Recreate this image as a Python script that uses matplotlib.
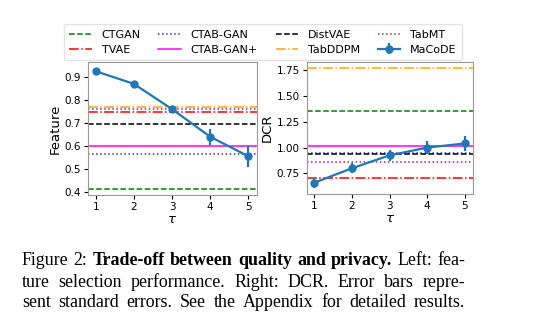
import numpy as np
import matplotlib
matplotlib.use("Agg")
import matplotlib.pyplot as plt

# data
tau = [1, 2, 3, 4, 5]
feat_macode = [0.925, 0.870, 0.760, 0.640, 0.555]
feat_err = [0.004, 0.006, 0.015, 0.035, 0.045]
dcr_macode = [0.660, 0.800, 0.925, 1.000, 1.040]
dcr_err = [0.050, 0.050, 0.055, 0.060, 0.070]

baselines = ["CTGAN", "TVAE", "CTAB-GAN", "CTAB-GAN+", "DistVAE", "TabDDPM", "TabMT"]
feat_base = [0.415, 0.748, 0.566, 0.600, 0.695, 0.770, 0.760]
dcr_base = [1.350, 0.710, 0.945, 1.015, 0.935, 1.775, 0.862]

styles = {
    "CTGAN": ("green", "--"),
    "TVAE": ("red", "-."),
    "CTAB-GAN": ("#3333cc", ":"),
    "CTAB-GAN+": ("magenta", "-"),
    "DistVAE": ("black", "--"),
    "TabDDPM": ("orange", "-."),
    "TabMT": ("#a020a0", ":"),
}

fig = plt.figure(figsize=(5.5, 3.28), dpi=100)
ax1 = fig.add_axes([0.160, 0.4055, 0.307, 0.4055])
ax2 = fig.add_axes([0.558, 0.4085, 0.302, 0.4025])


def draw(ax, base_vals, vals, errs, ylabel):
    handles = []
    for name, v in zip(baselines, base_vals):
        c, ls = styles[name]
        h = ax.axhline(v, color=c, linestyle=ls, linewidth=1.1, label=name)
        handles.append(h)
    h = ax.errorbar(tau, vals, yerr=errs, color="tab:blue", marker="o",
                    markersize=5, linewidth=1.6, elinewidth=1.6, label="MaCoDE")
    handles.append(h)
    ax.set_xticks(tau)
    ax.set_xlim(0.8, 5.22)
    ax.set_xlabel(r"$\tau$", fontsize=9.5, labelpad=1)
    ax.set_ylabel(ylabel, fontsize=9.5, labelpad=2)
    ax.tick_params(labelsize=7.5, length=3, pad=2)
    for s in ax.spines.values():
        s.set_color("#999999")
    return handles


handles = draw(ax1, feat_base, feat_macode, feat_err, "Feature")
draw(ax2, dcr_base, dcr_macode, dcr_err, "DCR")
ax1.set_ylim(0.387, 0.965)
ax1.set_yticks([0.4, 0.5, 0.6, 0.7, 0.8, 0.9])
ax2.set_ylim(0.55, 1.83)
ax2.set_yticks([0.75, 1.00, 1.25, 1.50, 1.75])

fig.legend(handles, baselines + ["MaCoDE"],
           loc="center", bbox_to_anchor=(0.478, 0.871), ncol=4,
           fontsize=8, handlelength=2.0, columnspacing=1.6,
           handletextpad=0.9, labelspacing=0.45, borderpad=0.5,
           framealpha=0.8, edgecolor="#dddddd")

# caption, justified word by word
serif = "Liberation Serif"
fs = 12.9
x0, x1 = 22, 465
lines = [
    (265, [("Figure", "normal"), ("2:", "normal"), ("Trade-off", "bold"),
           ("between", "bold"), ("quality", "bold"), ("and", "bold"),
           ("privacy.", "bold"), ("Left:", "normal"), ("fea-", "normal")]),
    (287, [(w, "normal") for w in
           "ture selection performance. Right: DCR. Error bars repre-".split()]),
    (307, [(w, "normal") for w in
           "sent standard errors. See the Appendix for detailed results.".split()]),
]
W, H = fig.get_size_inches() * fig.dpi
renderer = fig.canvas.get_renderer()
for base, words in lines:
    texts = [fig.text(0, 1 - base / H, w, fontsize=fs, family=serif,
                      weight=wt, va="baseline") for w, wt in words]
    widths = [t.get_window_extent(renderer).width for t in texts]
    gap = (x1 - x0 - sum(widths)) / (len(texts) - 1)
    x = x0
    for t, wd in zip(texts, widths):
        t.set_x(x / W)
        x += wd + gap

fig.savefig("out.png", dpi=100)
